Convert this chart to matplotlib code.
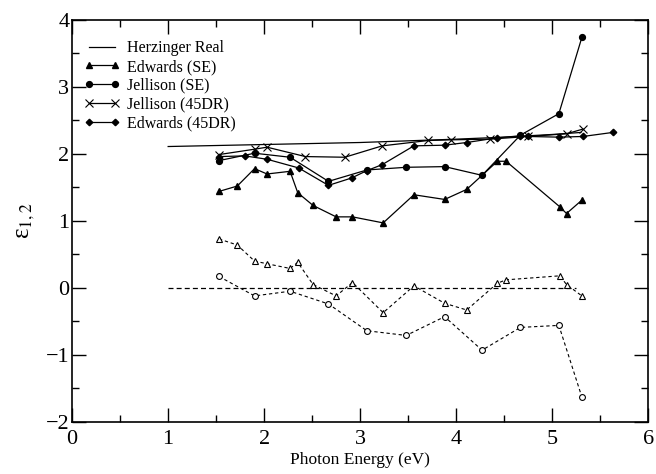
import matplotlib
matplotlib.use('Agg')
import matplotlib.pyplot as plt
from matplotlib.ticker import MultipleLocator

plt.rcParams['font.family'] = ['Liberation Serif', 'DejaVu Serif']
plt.rcParams['mathtext.fontset'] = 'stix'

# Herzinger reference (real part) and the zero line (imag part below gap)
herz_e = [1.0, 2.0, 3.0, 4.0, 4.5, 5.0, 5.3]
herz_re = [2.11, 2.14, 2.17, 2.22, 2.25, 2.29, 2.32]
herz_im_e = [1.0, 5.25]
herz_im = [0.0, 0.0]

# Edwards (SE)
ed_se_e = [1.53, 1.72, 1.90, 2.03, 2.27, 2.35, 2.51, 2.75, 2.92, 3.24,
           3.56, 3.88, 4.11, 4.43, 4.52, 5.08, 5.15, 5.31]
ed_se_re = [1.44, 1.52, 1.78, 1.70, 1.74, 1.42, 1.23, 1.06, 1.06, 0.97,
            1.39, 1.32, 1.47, 1.89, 1.89, 1.21, 1.11, 1.31]
ed_se_im = [0.73, 0.64, 0.40, 0.36, 0.29, 0.38, 0.05, -0.12, 0.08, -0.37,
            0.03, -0.23, -0.33, 0.07, 0.12, 0.18, 0.05, -0.12]

# Jellison (SE)
je_se_e = [1.53, 1.90, 2.27, 2.67, 3.07, 3.48, 3.88, 4.27, 4.67, 5.07, 5.31]
je_se_re = [1.90, 2.01, 1.95, 1.59, 1.76, 1.80, 1.81, 1.68, 2.28, 2.60, 3.74]
je_se_im = [0.17, -0.12, -0.05, -0.24, -0.64, -0.71, -0.43, -0.93, -0.59, -0.56, -1.63]

# Jellison (45DR)
je_dr_e = [1.53, 1.90, 2.03, 2.43, 2.84, 3.23, 3.71, 3.95, 4.35, 4.75, 5.15, 5.32]
je_dr_re = [1.99, 2.07, 2.10, 1.96, 1.95, 2.12, 2.20, 2.21, 2.22, 2.26, 2.30, 2.37]

# Edwards (45DR)
ed_dr_e = [1.53, 1.80, 2.03, 2.36, 2.67, 2.91, 3.07, 3.23, 3.56, 3.88,
           4.11, 4.43, 4.67, 4.75, 5.07, 5.32, 5.63]
ed_dr_re = [1.96, 1.97, 1.92, 1.79, 1.53, 1.64, 1.75, 1.84, 2.12, 2.13,
            2.17, 2.24, 2.27, 2.26, 2.25, 2.26, 2.32]

fig = plt.figure(figsize=(6.56, 4.74), dpi=100)
ax = fig.add_axes([0.110, 0.110, 0.878, 0.848])

lw = 0.9
ax.plot(herz_e, herz_re, '-', color='black', lw=lw, label='Herzinger Real')
ax.plot(ed_se_e, ed_se_re, '-^', color='black', lw=lw, ms=5, label='Edwards (SE)')
ax.plot(je_se_e, je_se_re, '-o', color='black', lw=lw, ms=4.2, label='Jellison (SE)')
ax.plot(je_dr_e, je_dr_re, '-x', color='black', lw=lw, ms=5.5, mew=0.8, label='Jellison (45DR)')
ax.plot(ed_dr_e, ed_dr_re, '-D', color='black', lw=lw, ms=3.3, label='Edwards (45DR)')

ax.plot(herz_im_e, herz_im, '--', color='black', lw=lw, dashes=(4, 2.5))
ax.plot(ed_se_e, ed_se_im, '--^', color='black', lw=0.8, ms=5, mfc='white',
        mew=0.8, dashes=(3, 2.5))
ax.plot(je_se_e, je_se_im, '--o', color='black', lw=0.8, ms=4.2, mfc='white',
        mew=0.8, dashes=(3, 2.5))

ax.set_xlim(0, 6)
ax.set_ylim(-2, 4)
ax.xaxis.set_major_locator(MultipleLocator(1))
ax.xaxis.set_minor_locator(MultipleLocator(0.5))
ax.yaxis.set_major_locator(MultipleLocator(1))
ax.yaxis.set_minor_locator(MultipleLocator(0.5))
ax.tick_params(which='both', direction='in', top=True, right=True, labelsize=16)
ax.tick_params(which='major', length=10, width=1)
ax.tick_params(which='minor', length=5, width=1)
ax.tick_params(axis='x', pad=6)
ax.tick_params(axis='y', pad=2)
for s in ax.spines.values():
    s.set_linewidth(1.2)

ax.set_xlabel('Photon Energy (eV)', fontsize=12.5, labelpad=2)
ax.set_ylabel('ε$_{1,2}$', fontsize=18, labelpad=6)

ax.legend(loc='upper left', bbox_to_anchor=(0.01, 0.965), frameon=False,
          numpoints=2, fontsize=11.5, handlelength=2.2, handletextpad=0.5,
          labelspacing=0.17, borderaxespad=0)

fig.savefig('out.png', dpi=100)
